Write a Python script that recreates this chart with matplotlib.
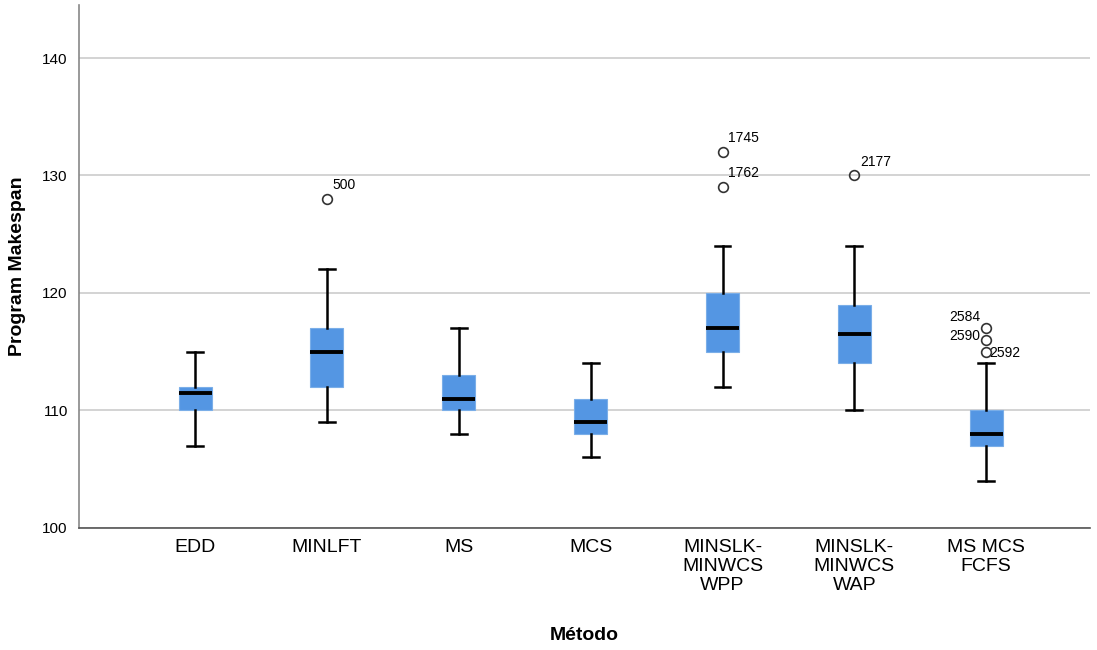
import matplotlib.pyplot as plt

plt.rcParams['font.family'] = ['Liberation Sans', 'DejaVu Sans']

metodos = ['EDD', 'MINLFT', 'MS', 'MCS', 'MINSLK-\nMINWCS\nWPP', 'MINSLK-\nMINWCS\nWAP', 'MS MCS\nFCFS']
whislo = [107, 109, 108, 106, 112, 110, 104]
q1 = [110, 112, 110, 108, 115, 114, 107]
med = [111.5, 115, 111, 109, 117, 116.5, 108]
q3 = [112, 117, 113, 111, 120, 119, 110]
whishi = [115, 122, 117, 114, 124, 124, 114]
outliers = [[], [128], [], [], [132, 129], [130], [117, 116, 115]]
outlier_ids = [[], ['500'], [], [], ['1745', '1762'], ['2177'], ['2584', '2590', '2592']]
# which side each case label goes on
label_side = [[], ['r'], [], [], ['r', 'r'], ['r'], ['l', 'l', 'rd']]

stats = []
for i in range(len(metodos)):
    stats.append(dict(whislo=whislo[i], q1=q1[i], med=med[i], q3=q3[i],
                      whishi=whishi[i], fliers=outliers[i], label=metodos[i]))

fig = plt.figure(figsize=(10.97, 6.5), dpi=100)
ax = fig.add_axes([0.072, 0.188, 0.922, 0.804])

ax.bxp(stats, positions=range(len(metodos)), widths=0.25, patch_artist=True,
       boxprops=dict(facecolor='#5496e3', edgecolor='#7aaee8', linewidth=0.8),
       medianprops=dict(color='black', linewidth=2.8),
       whiskerprops=dict(color='black', linewidth=1.8),
       capprops=dict(color='black', linewidth=1.8),
       capwidths=0.12,
       flierprops=dict(marker='o', markerfacecolor='none', markeredgecolor='#333333',
                       markersize=7, markeredgewidth=1.2),
       zorder=3)

for i in range(len(metodos)):
    for v, lab, side in zip(outliers[i], outlier_ids[i], label_side[i]):
        if side == 'r':
            ax.annotate(lab, (i, v), xytext=(4, 5), textcoords='offset points',
                        fontsize=10, ha='left', va='bottom')
        elif side == 'l':
            ax.annotate(lab, (i, v), xytext=(-4, 3), textcoords='offset points',
                        fontsize=10, ha='right', va='bottom' if lab == '2584' else 'center')
        else:
            ax.annotate(lab, (i, v), xytext=(2, -1), textcoords='offset points',
                        fontsize=10, ha='left', va='center')

ax.set_xlim(-0.88, 6.79)
ax.set_ylim(100, 144.5)
ax.set_yticks([100, 110, 120, 130, 140])
ax.yaxis.grid(True, color='#cccccc', linewidth=1.2, zorder=0)
ax.set_axisbelow(True)
ax.tick_params(axis='both', length=0)
ax.tick_params(axis='y', labelsize=11, pad=8)
ax.tick_params(axis='x', labelsize=14, pad=8)
for lbl in ax.get_xticklabels():
    lbl.set_linespacing(1.15)

for s in ['top', 'right']:
    ax.spines[s].set_visible(False)
ax.spines['left'].set_color('#888888')
ax.spines['bottom'].set_color('#555555')
ax.spines['left'].set_linewidth(1.2)
ax.spines['bottom'].set_linewidth(1.2)

ax.set_ylabel('Program Makespan', fontsize=14, fontweight='bold', labelpad=12)
ax.set_xlabel('Método', fontsize=14, fontweight='bold', labelpad=24)

plt.savefig('out.png', dpi=100)
